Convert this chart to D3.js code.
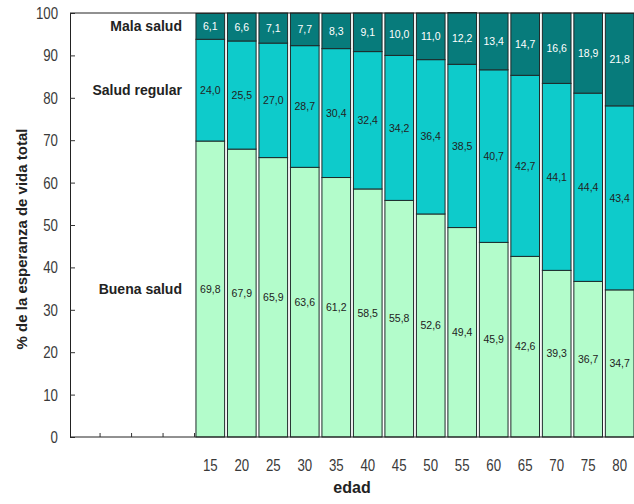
<!DOCTYPE html>
<html>
<head>
<meta charset="utf-8">
<script src="https://cdn.jsdelivr.net/npm/d3@7"></script>
<style>
  body { margin: 0; background: #fff; }
  svg { display: block; }
</style>
</head>
<body>
<svg id="chart" width="634" height="504"></svg>
<script>
// Edad (años) y reparto de la esperanza de vida según estado de salud (%)
const ages = [15, 20, 25, 30, 35, 40, 45, 50, 55, 60, 65, 70, 75, 80];
const buenaSalud  = [69.8, 67.9, 65.9, 63.6, 61.2, 58.5, 55.8, 52.6, 49.4, 45.9, 42.6, 39.3, 36.7, 34.7];
const saludRegular = [24.0, 25.5, 27.0, 28.7, 30.4, 32.4, 34.2, 36.4, 38.5, 40.7, 42.7, 44.1, 44.4, 43.4];
const malaSalud   = [6.1, 6.6, 7.1, 7.7, 8.3, 9.1, 10.0, 11.0, 12.2, 13.4, 14.7, 16.6, 18.9, 21.8];
const seriesNames = ["Buena salud", "Salud regular", "Mala salud"];
const yTicks = [0, 10, 20, 30, 40, 50, 60, 70, 80, 90, 100];
// columnas vacías a la izquierda, reservadas para los nombres de las series
const blankSlots = ["b1", "b2", "b3", "b4"];

const colors = { "Buena salud": "#b3fccb", "Salud regular": "#0ecbcb", "Mala salud": "#077b7b" };
const labelColors = { "Buena salud": "#222", "Salud regular": "#222", "Mala salud": "#fff" };

const svg = d3.select("#chart");
const margin = { left: 70, right: 0, top: 13, bottom: 67 };
const W = 634, H = 504;
const plotBottom = H - margin.bottom;

const rows = ages.map((a, i) => ({
  age: String(a),
  "Buena salud": buenaSalud[i],
  "Salud regular": saludRegular[i],
  "Mala salud": malaSalud[i]
}));

const x = d3.scaleBand()
  .domain(blankSlots.concat(ages.map(String)))
  .range([margin.left, W - margin.right])
  .paddingInner(0.09)
  .paddingOuter(0.0)
  .align(1);

const y = d3.scaleLinear().domain([0, 100]).range([plotBottom, margin.top]);

const stack = d3.stack().keys(seriesNames);
const stacked = stack(rows);

const sans = "'Liberation Sans', Arial, sans-serif";

// barras apiladas
const layers = svg.append("g").selectAll("g")
  .data(stacked)
  .join("g")
  .attr("fill", d => colors[d.key]);

layers.selectAll("rect")
  .data(d => d)
  .join("rect")
  .attr("x", d => x(d.data.age))
  .attr("width", x.bandwidth())
  .attr("y", d => y(d[1]))
  .attr("height", d => y(d[0]) - y(d[1]))
  .attr("stroke", "#1e2a2a")
  .attr("stroke-width", 1);

// valores dentro de cada segmento
const fmt = v => v.toFixed(1).replace(".", ",");
stacked.forEach(layer => {
  svg.append("g").selectAll("text")
    .data(layer)
    .join("text")
    .attr("x", d => x(d.data.age) + x.bandwidth() / 2)
    .attr("y", d => (y(d[0]) + y(d[1])) / 2)
    .attr("dy", "0.35em")
    .attr("text-anchor", "middle")
    .attr("font-family", sans)
    .attr("font-size", 10.5)
    .attr("fill", labelColors[layer.key])
    .text(d => fmt(d.data[layer.key]));
});

// eje Y (cifras estrechas)
const yAxis = svg.append("g")
  .attr("transform", `translate(${margin.left},0)`)
  .call(d3.axisLeft(y).tickValues(yTicks).tickSize(0).tickPadding(0));
yAxis.select(".domain").attr("stroke", "#222");
yAxis.selectAll("text")
  .attr("x", 0)
  .attr("transform", "translate(-12,0) scale(0.78,1)")
  .attr("font-family", sans)
  .attr("font-size", 17)
  .attr("fill", "#3a3a3a");
yAxis.selectAll(".tick").append("line")
  .attr("x1", 0).attr("x2", 5)
  .attr("stroke", "#333");

// eje X
const xAxis = svg.append("g")
  .attr("transform", `translate(0,${plotBottom})`)
  .call(d3.axisBottom(x).tickSize(0).tickPadding(0)
    .tickFormat(d => blankSlots.includes(d) ? "" : d));
xAxis.select(".domain").remove();
xAxis.selectAll("text")
  .attr("y", 0)
  .attr("dy", "0.71em")
  .attr("transform", "translate(0,22) scale(0.78,1)")
  .attr("font-family", sans)
  .attr("font-size", 17)
  .attr("fill", "#3a3a3a");

// línea base y borde superior del área de trazado
svg.append("line")
  .attr("x1", margin.left).attr("x2", W)
  .attr("y1", plotBottom).attr("y2", plotBottom)
  .attr("stroke", "#222");
svg.append("line")
  .attr("x1", margin.left).attr("x2", W)
  .attr("y1", margin.top).attr("y2", margin.top)
  .attr("stroke", "#222");

// marcas en los límites de las columnas vacías
svg.append("g").selectAll("line")
  .data(blankSlots.slice(1).concat([ages[0] + ""]))
  .join("line")
  .attr("x1", d => x(d) - x.step() * x.paddingInner() / 2)
  .attr("x2", d => x(d) - x.step() * x.paddingInner() / 2)
  .attr("y1", plotBottom).attr("y2", plotBottom - 4)
  .attr("stroke", "#333");

// nombres de las series, junto a la primera barra, centrados en su segmento
const labelX = x(String(ages[0])) - 14;
svg.append("g").selectAll("text")
  .data(stacked)
  .join("text")
  .attr("x", labelX)
  .attr("y", d => y((d[0][0] + d[0][1]) / 2))
  .attr("dy", "0.35em")
  .attr("text-anchor", "end")
  .attr("font-family", sans)
  .attr("font-weight", "bold")
  .attr("font-size", 14)
  .attr("fill", "#222")
  .text(d => d.key);

// títulos de los ejes
svg.append("text")
  .attr("transform", `translate(22,${(margin.top + plotBottom) / 2 + 14}) rotate(-90)`)
  .attr("text-anchor", "middle")
  .attr("dy", "0.35em")
  .attr("font-family", sans)
  .attr("font-weight", "bold")
  .attr("font-size", 15)
  .attr("fill", "#222")
  .text("% de la esperanza de vida total");

svg.append("text")
  .attr("x", 352)
  .attr("y", 493)
  .attr("text-anchor", "middle")
  .attr("font-family", sans)
  .attr("font-weight", "bold")
  .attr("font-size", 16)
  .attr("fill", "#222")
  .text("edad");
</script>
</body>
</html>
